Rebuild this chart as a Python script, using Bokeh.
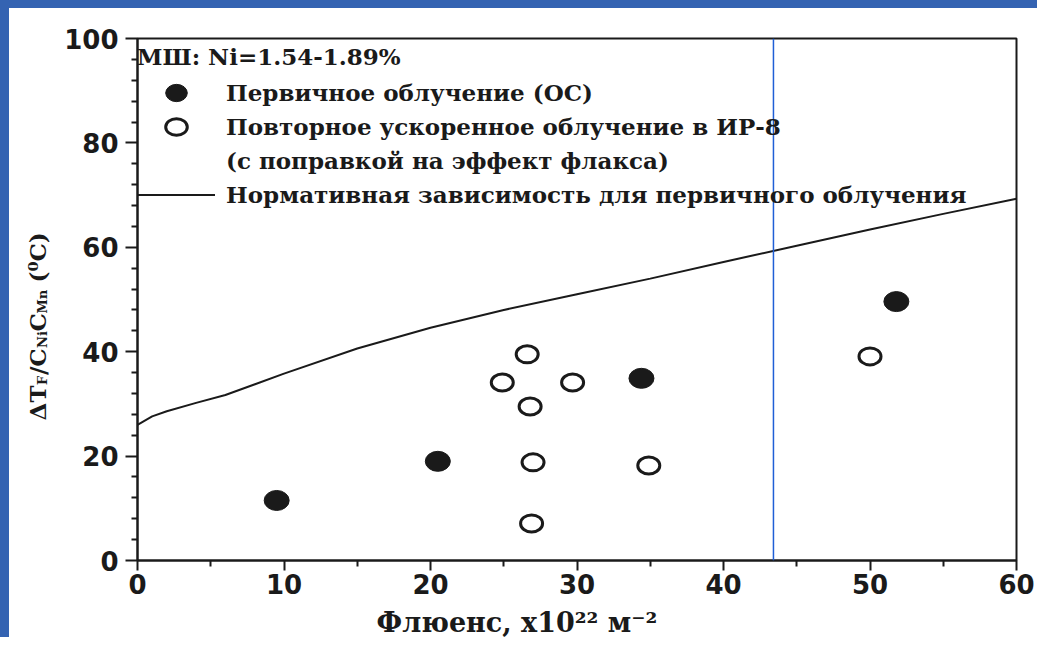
from bokeh.plotting import figure
from bokeh.models import (Legend, LegendItem, Range1d, FixedTicker, LinearAxis,
                          Span)
from bokeh.embed import file_html
from bokeh.resources import INLINE

# ---------------- data ----------------
x_ticks = [0, 10, 20, 30, 40, 50, 60]
x_minor = [5, 15, 25, 35, 45, 55]
y_ticks = [0, 20, 40, 60, 80, 100]
y_minor = [4, 8, 12, 16, 24, 28, 32, 36, 44, 48, 52, 56, 64, 68, 72, 76, 84, 88, 92, 96]

# Первичное облучение (ОС)
primary_x = [9.5, 20.5, 34.4, 51.8]
primary_y = [11.5, 19.0, 34.9, 49.6]

# Повторное ускоренное облучение в ИР-8
repeat_x = [24.9, 26.6, 26.8, 27.0, 26.9, 29.7, 34.9, 50.0]
repeat_y = [34.1, 39.5, 29.5, 18.8, 7.1, 34.1, 18.2, 39.1]

# Нормативная зависимость
norm_x = [0, 1, 2, 4, 6, 10, 15, 20, 25, 30, 35, 40, 45, 50, 55, 60]
norm_y = [26.0, 27.6, 28.6, 30.2, 31.7, 35.8, 40.6, 44.6, 48.0, 51.0, 54.0,
          57.2, 60.3, 63.4, 66.4, 69.3]

title_text = "МШ: Ni=1.54-1.89%"
label_primary = "Первичное облучение (ОС)"
label_repeat = "Повторное ускоренное облучение в ИР-8"
label_repeat2 = "(с поправкой на эффект флакса)"
label_norm = "Нормативная зависимость для первичного облучения"

# axis titles, split into pieces (main text and sub/superscripts)
x_title = "Флюенс, x10²² м⁻²"
y_title_main = ["ΔT", "/C", "C", "(⁰C)"]
y_title_subs = ["F", "Ni", "Mn"]

# ---------------- figure ----------------
W, H = 1037, 637          # plus a 9px / 8px slide border (CSS)
L, R, T, B = 128, 30, 30, 85
INK = "#1a1a1a"
BLUE = "#3463b2"
SERIF = "DejaVu Serif"

p = figure(width=W, height=H, output_backend="svg", toolbar_location=None,
           x_range=Range1d(0, 60), y_range=Range1d(0, 100),
           min_border_left=L, min_border_right=R, min_border_top=T,
           min_border_bottom=B)
p.styles = {"border-left": f"9px solid {BLUE}", "border-top": f"8px solid {BLUE}"}
p.border_fill_color = "white"
p.background_fill_color = "white"
p.xgrid.visible = False
p.ygrid.visible = False
p.outline_line_color = INK
p.outline_line_width = 2

p.xaxis.ticker = FixedTicker(ticks=x_ticks, minor_ticks=x_minor)
p.yaxis.ticker = FixedTicker(ticks=y_ticks, minor_ticks=y_minor)
for ax in (p.xaxis[0], p.yaxis[0]):
    ax.axis_line_width = 2
    ax.axis_line_color = INK
    ax.major_tick_line_width = 2
    ax.minor_tick_line_width = 2
    ax.major_tick_line_color = INK
    ax.minor_tick_line_color = INK
    ax.major_tick_in = 0
    ax.minor_tick_in = 0
    ax.minor_tick_out = 6
    ax.major_label_text_font = "DejaVu Sans"
    ax.major_label_text_font_style = "bold"
    ax.major_label_text_font_size = "26px"
    ax.major_label_text_color = INK
p.xaxis.major_tick_out = 10
p.yaxis.major_tick_out = 12
p.xaxis.major_label_standoff = 3
p.yaxis.major_label_standoff = 7


# ---------------- axis titles as label-only axes ----------------
def title_axis(positions, texts, size, standoff, vertical):
    ax = LinearAxis(ticker=FixedTicker(ticks=positions, minor_ticks=[]),
                    major_label_overrides=dict(zip(positions, texts)))
    ax.axis_line_alpha = 0
    ax.major_tick_line_alpha = 0
    ax.minor_tick_line_alpha = 0
    ax.major_tick_out = 0
    ax.major_tick_in = 0
    ax.minor_tick_out = 0
    ax.major_label_standoff = standoff
    ax.major_label_text_font = SERIF
    ax.major_label_text_font_style = "bold"
    ax.major_label_text_font_size = f"{size}px"
    ax.major_label_text_color = INK
    if vertical:
        ax.major_label_orientation = "vertical"
    return ax


x_title_pos = [25.9]
p.add_layout(title_axis(x_title_pos, [x_title], 27, 10, False), "below")

y_sub_pos = [34.50, 42.34, 49.58]
y_main_pos = [30.19, 38.08, 45.63, 58.08]
p.add_layout(title_axis(y_sub_pos, y_title_subs, 13, 11, True), "left")
p.add_layout(title_axis(y_main_pos, y_title_main, 23, -19, True), "left")

# ---------------- data glyphs ----------------
r_norm = p.line(norm_x, norm_y, line_color=INK, line_width=2)
r_prim = p.ellipse(x=primary_x, y=primary_y, width=25, height=20,
                   width_units="screen", height_units="screen",
                   fill_color=INK, line_color=INK, line_width=1)
r_rep = p.ellipse(x=repeat_x, y=repeat_y, width=22, height=17,
                  width_units="screen", height_units="screen",
                  fill_color="white", line_color=INK, line_width=3)
r_dummy = p.line(x=[], y=[], line_alpha=0)

legend = Legend(items=[
    LegendItem(label=label_primary, renderers=[r_prim]),
    LegendItem(label=label_repeat, renderers=[r_rep]),
    LegendItem(label=label_repeat2, renderers=[r_dummy]),
    LegendItem(label=label_norm, renderers=[r_norm]),
], location=(0, 352), title=title_text)
legend.title_text_font = SERIF
legend.title_text_font_style = "bold"
legend.title_text_font_size = "23px"
legend.title_text_color = INK
legend.title_standoff = 9
legend.label_text_font = SERIF
legend.label_text_font_style = "bold"
legend.label_text_font_size = "23px"
legend.label_text_color = INK
legend.glyph_width = 78
legend.glyph_height = 27
legend.label_height = 27
legend.spacing = 7
legend.label_standoff = 11
legend.padding = 0
legend.margin = 0
legend.border_line_alpha = 0
legend.background_fill_alpha = 0
p.add_layout(legend)

# thin blue line crossing the slide
p.add_layout(Span(location=43.41, dimension="height", line_color="#1f5fd6",
                  line_width=1.5))

open("out.html", "w").write(file_html(p, INLINE))
